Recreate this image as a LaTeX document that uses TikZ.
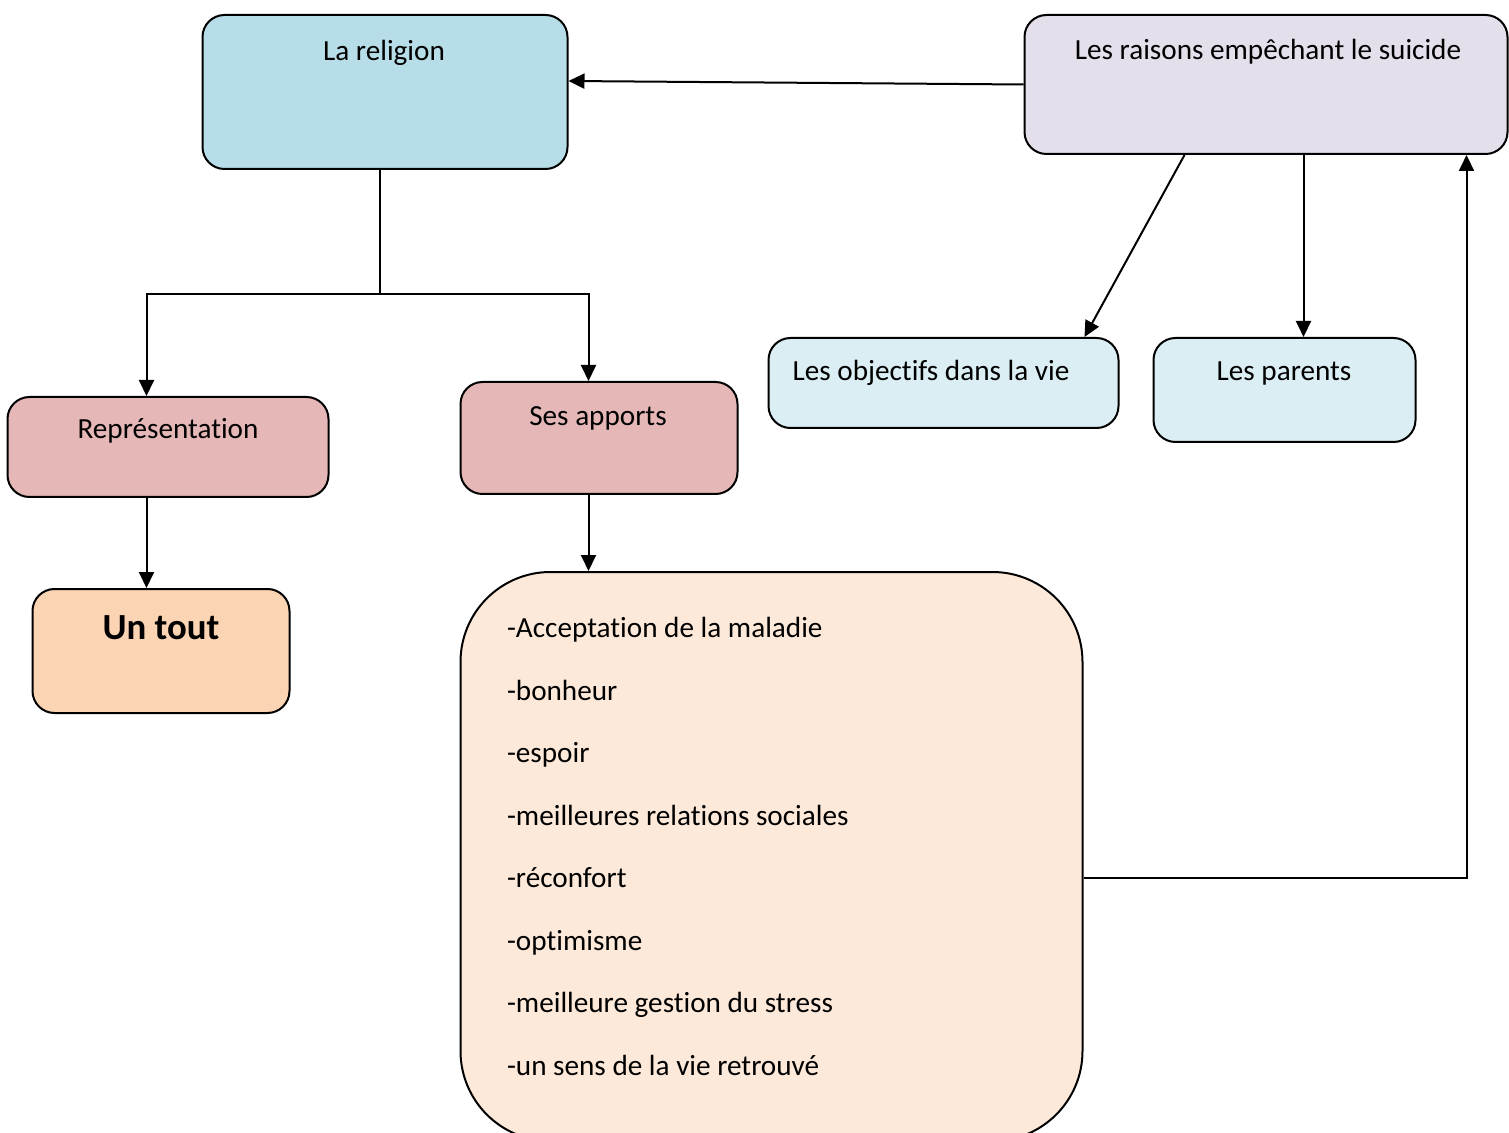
\documentclass[tikz,border=0pt]{standalone}
\usepackage{fontspec}
\setmainfont{Carlito}[Ligatures=NoCommon]
\usetikzlibrary{arrows.meta}
\definecolor{religionfill}{HTML}{B7DDE8}
\definecolor{raisonsfill}{HTML}{E5DFEC}
\definecolor{rosefill}{HTML}{E5B8B7}
\definecolor{bleupale}{HTML}{DAEEF3}
\definecolor{peche}{HTML}{FBD4B4}
\definecolor{pechepale}{HTML}{FDE9D9}
\tikzstyle{box} = [draw, line width=1pt, rounded corners=11pt, anchor=north west, inner sep=0pt]
\tikzstyle{lbl} = [font=\fontsize{14.6}{17}\selectfont, inner sep=0pt, anchor=base]

\begin{document}
\begin{tikzpicture}[x=0.5pt, y=-0.5pt, line width=1pt, >={Triangle[width=7.5pt,length=8pt]}]
\useasboundingbox (0,0) rectangle (1509,1133);

% les cadres
\node[box, fill=religionfill, minimum width=182.5pt, minimum height=77pt] (religion) at (201.5,14) {};
\node[box, fill=raisonsfill, minimum width=241.5pt, minimum height=69.5pt] (raisons) at (1023.5,14) {};
\node[box, fill=rosefill, minimum width=160.5pt, minimum height=50pt] (repres) at (6.5,396) {};
\node[box, fill=rosefill, minimum width=138.5pt, minimum height=56pt] (apports) at (459.5,381) {};
\node[box, fill=bleupale, minimum width=175pt, minimum height=45pt] (objectifs) at (767.5,337) {};
\node[box, fill=bleupale, minimum width=131pt, minimum height=52pt] (parents) at (1152.5,337) {};
\node[box, fill=peche, minimum width=128.5pt, minimum height=62pt] (untout) at (31.5,588) {};
\node[box, fill=pechepale, rounded corners=45pt, minimum width=311pt, minimum height=284.5pt] (apportsliste) at (459.5,571) {};

% les textes
\node[lbl] (religiontxt) at (384,61) {La religion};
\node[lbl] (raisonstxt) at (1268,60) {Les raisons empêchant le suicide};
\node[lbl] (represtxt) at (168,439) {Représentation};
\node[lbl] (apportstxt) at (598,426) {Ses apports};
\node[lbl] (objectifstxt) at (931,381) {Les objectifs dans la vie};
\node[lbl] (parentstxt) at (1284,381) {Les parents};
\node[lbl, font=\fontsize{18.4}{22}\selectfont\bfseries] (untouttxt) at (161,639) {Un tout};
\foreach \item [count=\i] in {-Acceptation de la maladie, -bonheur, -espoir,
  -meilleures relations sociales, -réconfort, -optimisme,
  -meilleure gestion du stress, -un sens de la vie retrouvé}
  \node[lbl, anchor=base west] (item\i) at (506,575+62.5*\i) {\item};

% les liens
\coordinate (fork) at (379.5,294);
\draw (religion.south -| fork) -- (fork);
\draw[->] (fork) -| ([xshift=-10.75pt]repres.north);
\draw[->] (fork) -| ([xshift=-5.25pt]apports.north);
\draw[->] ([xshift=-10.75pt]repres.south) -- ([xshift=-10.75pt]repres.south |- untout.north);
\draw[->] ([xshift=-5.25pt]apports.south) -- ([xshift=-5.25pt]apports.south |- apportsliste.north);
\draw[->] (raisons.west) -- ([yshift=5.5pt]religion.east);
\draw[->] ([xshift=-40.75pt]raisons.south) -- ([xshift=70.5pt]objectifs.north);
\draw[->] ([xshift=18.75pt]raisons.south) -- ([xshift=18.75pt]raisons.south |- parents.north);
\draw[->] ([yshift=-10.75pt]apportsliste.east) -| ([xshift=100.25pt]raisons.south);
\end{tikzpicture}
\end{document}
